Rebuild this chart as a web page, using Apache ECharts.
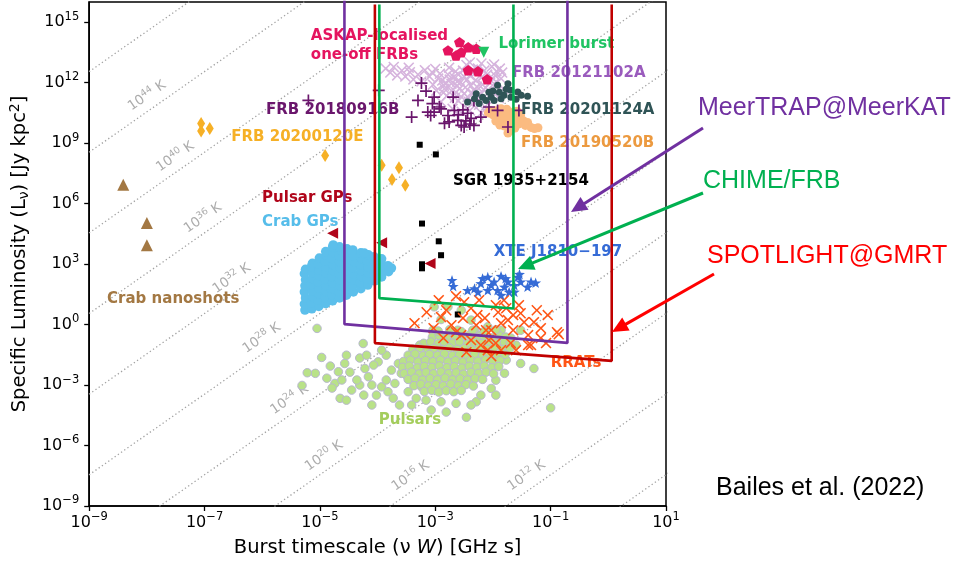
<!DOCTYPE html>
<html>
<head>
<meta charset="utf-8">
<script src="https://cdn.jsdelivr.net/npm/echarts@6/dist/echarts.min.js"></script>
<style>
  html, body { margin: 0; padding: 0; background: #fff; }
  #chart { width: 958px; height: 565px; }
</style>
</head>
<body>
<div id="chart"></div>
<script>
// All source values below are given as [log10(nu W / GHz s), log10(L_nu / Jy kpc^2)].

const crabNanoshots = [[-8.41, 6.94], [-8.00, 5.04], [-8.00, 3.93]];

const frb20200120E = [[-7.06, 9.97], [-7.06, 9.60], [-6.91, 9.72], [-4.91, 8.39],
  [-3.93, 7.90], [-3.63, 7.78], [-3.75, 7.19], [-3.52, 6.91]];

const sgr1935 = [[-3.27, 8.92], [-2.99, 8.44], [-3.23, 5.01], [-2.94, 4.13],
  [-2.90, 3.44], [-3.23, 2.99], [-3.23, 2.79], [-2.61, 0.50]];

const pulsarGPs = [[-4.78, 4.53], [-3.93, 4.06], [-3.09, 3.03]];

const askapFRBs = [[-2.58, 14.01], [-2.78, 13.60], [-2.64, 13.35], [-2.55, 13.51],
  [-2.43, 13.76], [-2.29, 13.68], [-2.43, 12.61], [-2.26, 12.56], [-2.10, 12.17]];

const lorimerBurst = [[-2.16, 13.51]];

const frb20121102A = [
  [-3.86, 12.70], [-3.78, 12.50], [-3.72, 12.78], [-3.66, 12.36], [-3.58, 12.60], [-3.52, 12.30],
  [-3.44, 12.52], [-3.38, 12.16], [-3.30, 12.40], [-3.24, 12.06], [-3.46, 12.74], [-3.18, 12.62],
  [-3.10, 12.30], [-3.04, 11.90], [-2.98, 11.60], [-2.92, 12.44], [-2.88, 12.10], [-2.84, 11.70],
  [-2.80, 11.35], [-2.76, 12.74], [-2.72, 11.95], [-2.68, 12.28], [-2.64, 11.52], [-2.60, 11.10],
  [-2.56, 12.02], [-2.52, 12.60], [-2.48, 11.76], [-2.44, 11.30], [-2.40, 12.36], [-2.36, 10.95],
  [-2.33, 11.62], [-2.30, 12.12], [-2.26, 12.70], [-2.22, 11.40], [-2.18, 11.90], [-2.14, 10.80],
  [-2.10, 12.40], [-2.06, 11.56], [-2.02, 12.80], [-1.98, 11.95], [-1.94, 12.56], [-1.90, 11.24],
  [-1.86, 12.20], [-1.82, 11.70], [-2.90, 11.05], [-2.70, 10.70], [-2.54, 10.55], [-2.40, 10.62],
  [-2.24, 10.90], [-2.50, 11.45], [-2.62, 11.85], [-2.38, 11.85], [-2.12, 11.20], [-2.78, 12.40],
  [-2.46, 12.88], [-2.30, 12.50], [-2.00, 12.20], [-2.86, 11.50], [-2.20, 10.50], [-2.66, 11.25],
  [-3.00, 12.68], [-1.95, 11.50], [-2.95, 12.20], [-2.85, 11.85], [-2.75, 12.15], [-2.65, 12.55],
  [-2.58, 11.70], [-2.45, 12.15], [-2.35, 12.65], [-2.28, 11.80], [-2.15, 12.60], [-2.05, 12.00],
  [-1.96, 12.35], [-1.88, 12.70], [-2.55, 11.30], [-2.42, 11.05], [-2.28, 11.20], [-2.16, 11.65],
  [-2.72, 11.60], [-2.82, 12.00], [-2.60, 12.40], [-2.20, 12.25], [-3.05, 12.50], [-2.50, 12.30],
  [-1.84, 12.50], [-2.35, 11.45], [-2.62, 12.05], [-2.40, 13.00], [-2.20, 12.95], [-1.98, 12.90]];

const frb20180916B = [
  [-5.20, 11.12], [-3.98, 11.62], [-3.24, 11.98], [-3.16, 11.58], [-3.30, 11.12], [-3.02, 11.28],
  [-3.41, 10.29], [-3.13, 10.54], [-2.93, 10.79], [-2.84, 9.98], [-2.69, 11.28], [-2.67, 10.62],
  [-2.55, 9.88], [-2.33, 9.88], [-2.44, 10.48], [-2.21, 10.29], [-2.33, 11.12], [-2.07, 10.79],
  [-1.92, 10.62], [-1.74, 9.80], [-1.55, 10.62], [-3.02, 10.54], [-2.78, 10.37], [-2.61, 10.13],
  [-2.50, 9.80], [-2.38, 10.23], [-3.05, 10.96], [-2.90, 10.70], [-2.60, 10.40], [-2.47, 10.10],
  [-2.40, 9.95], [-3.08, 10.37], [-2.76, 10.05], [-2.52, 10.65]];

const frb20201124A = [
  [-1.74, 11.95], [-1.57, 11.53], [-1.40, 11.32], [-2.00, 11.58], [-2.18, 11.28], [-2.32, 11.20],
  [-1.86, 11.20], [-1.69, 11.28], [-2.12, 11.12], [-1.98, 11.12], [-1.81, 11.37], [-2.44, 11.04],
  [-2.29, 11.45], [-1.92, 11.87], [-1.69, 11.62], [-2.07, 11.52], [-1.89, 11.52], [-2.24, 10.97],
  [-1.60, 11.17], [-1.51, 11.37], [-1.77, 11.67], [-2.03, 11.28]];

const frb20190520B = [
  [-2.05, 10.62], [-2.00, 10.40], [-1.95, 10.60], [-1.90, 10.30], [-1.85, 10.55], [-1.80, 10.20],
  [-1.76, 10.68], [-1.72, 10.40], [-1.68, 10.05], [-1.64, 10.55], [-1.60, 10.25], [-1.56, 9.95],
  [-1.52, 10.40], [-1.48, 10.12], [-1.44, 9.88], [-1.40, 10.02], [-1.34, 9.78], [-1.28, 9.72],
  [-1.22, 9.76], [-1.74, 9.50], [-1.70, 9.62], [-1.62, 9.75], [-1.95, 10.10], [-1.88, 9.90],
  [-2.08, 10.50], [-1.58, 10.58], [-1.86, 10.71], [-1.80, 9.85]];

const xteJ1810 = [
  [-2.71, 2.20], [-2.69, 1.90], [-2.44, 1.70], [-2.32, 1.79], [-2.21, 2.04], [-2.09, 2.36],
  [-1.98, 2.12], [-1.86, 2.40], [-1.74, 2.12], [-1.57, 2.36], [-1.72, 1.62], [-1.40, 1.87],
  [-1.26, 2.07], [-1.92, 1.70], [-2.09, 1.70], [-2.03, 1.95], [-1.80, 1.87], [-1.63, 1.95],
  [-1.52, 2.12], [-1.34, 2.12], [-1.78, 2.29], [-2.18, 2.29], [-2.26, 1.62], [-1.86, 1.46],
  [-1.63, 1.62], [-1.54, 2.50]];

const rrats = [
  [-3.36, 0.07], [-3.15, 0.61], [-2.94, 1.21], [-2.90, 0.37], [-2.64, 1.41], [-2.52, 0.32],
  [-2.38, 0.81], [-2.24, 1.21], [-2.14, 0.32], [-2.03, -0.28], [-1.91, 0.61], [-1.81, 1.21],
  [-1.74, 0.22], [-1.65, -0.28], [-1.52, 0.56], [-1.39, -0.52], [-1.29, 0.12], [-1.17, -0.18],
  [-1.05, 0.47], [-0.89, -0.38], [-1.08, -0.92], [-1.39, -1.02], [-1.69, -0.92], [-1.95, -0.92],
  [-2.21, -1.02], [-2.46, -1.37], [-2.55, -0.52], [-2.38, -0.77], [-2.03, -1.57], [-1.86, -1.27],
  [-1.60, -1.27], [-1.34, -1.02], [-2.12, -0.28], [-2.29, -0.03], [-2.72, -0.03], [-2.81, 0.71],
  [-2.50, 1.11], [-1.86, 0.07], [-1.65, 0.47], [-1.46, 0.12], [-1.24, 0.71], [-1.55, 0.96],
  [-1.77, 0.81], [-1.95, 0.96], [-2.27, 0.47], [-2.64, -0.38], [-3.03, -0.18], [-2.86, -0.67],
  [-2.07, -0.77], [-1.17, -0.67], [-0.86, -0.48], [-2.09, -1.27]];

const crabGPs = [
  [-5.26, 0.72], [-5.27, 1.02], [-5.25, 1.32], [-5.27, 1.62], [-5.26, 1.92], [-5.25, 2.22], [-5.27, 2.52], [-5.25, 2.74],
  [-5.14, 0.78], [-5.15, 1.08], [-5.13, 1.38], [-5.14, 1.68], [-5.15, 1.98], [-5.13, 2.28], [-5.14, 2.58], [-5.15, 2.86], [-5.13, 3.04],
  [-5.02, 0.90], [-5.03, 1.20], [-5.01, 1.50], [-5.02, 1.80], [-5.03, 2.10], [-5.01, 2.40], [-5.02, 2.70], [-5.03, 3.00], [-5.01, 3.30],
  [-4.90, 1.04], [-4.91, 1.34], [-4.89, 1.64], [-4.90, 1.94], [-4.91, 2.24], [-4.89, 2.54], [-4.90, 2.84], [-4.91, 3.14], [-4.89, 3.44], [-4.90, 3.62],
  [-4.78, 1.18], [-4.79, 1.48], [-4.77, 1.78], [-4.78, 2.08], [-4.79, 2.38], [-4.77, 2.68], [-4.78, 2.98], [-4.79, 3.28], [-4.77, 3.58], [-4.78, 3.86],
  [-4.66, 1.32], [-4.67, 1.62], [-4.65, 1.92], [-4.66, 2.22], [-4.67, 2.52], [-4.65, 2.82], [-4.66, 3.12], [-4.67, 3.42], [-4.65, 3.72], [-4.66, 3.86],
  [-4.54, 1.46], [-4.55, 1.76], [-4.53, 2.06], [-4.54, 2.36], [-4.55, 2.66], [-4.53, 2.96], [-4.54, 3.26], [-4.55, 3.56], [-4.53, 3.76],
  [-4.42, 1.62], [-4.43, 1.92], [-4.41, 2.22], [-4.42, 2.52], [-4.43, 2.82], [-4.41, 3.12], [-4.42, 3.42], [-4.43, 3.70],
  [-4.29, 1.78], [-4.30, 2.08], [-4.28, 2.38], [-4.29, 2.68], [-4.30, 2.98], [-4.28, 3.28], [-4.29, 3.56],
  [-4.17, 1.96], [-4.18, 2.26], [-4.16, 2.56], [-4.17, 2.86], [-4.18, 3.16], [-4.16, 3.46],
  [-4.05, 2.16], [-4.06, 2.46], [-4.04, 2.76], [-4.05, 3.06], [-4.06, 3.36],
  [-3.93, 2.36], [-3.94, 2.66], [-3.92, 2.96], [-3.93, 3.26],
  [-3.81, 2.62], [-3.82, 2.92],
  [-4.77, 3.95], [-4.44, 3.65], [-4.23, 3.55], [-3.99, 3.11], [-3.76, 2.80]];

const pulsarsCore = [
  [-3.05, -0.62], [-2.93, -0.55], [-2.80, -0.66], [-2.66, -0.58], [-2.54, -0.64], [-2.41, -0.52], [-2.27, -0.63], [-2.15, -0.57], [-2.01, -0.66], [-1.89, -0.55], [-1.78, -0.62],
  [-3.20, -0.93], [-3.08, -0.86], [-2.95, -0.95], [-2.84, -0.88], [-2.70, -0.92], [-2.58, -0.85], [-2.44, -0.96], [-2.31, -0.89], [-2.19, -0.94], [-2.05, -0.86], [-1.93, -0.93], [-1.80, -0.88], [-1.70, -0.95],
  [-3.39, -1.22], [-3.27, -1.16], [-3.13, -1.25], [-3.02, -1.18], [-2.88, -1.24], [-2.76, -1.15], [-2.62, -1.23], [-2.50, -1.19], [-2.36, -1.26], [-2.24, -1.17], [-2.10, -1.22], [-1.98, -1.14], [-1.84, -1.24], [-1.71, -1.18],
  [-3.47, -1.52], [-3.35, -1.46], [-3.21, -1.55], [-3.10, -1.48], [-2.96, -1.53], [-2.84, -1.45], [-2.70, -1.54], [-2.58, -1.49], [-2.44, -1.56], [-2.32, -1.47], [-2.18, -1.52], [-2.06, -1.45], [-1.92, -1.55], [-1.79, -1.48],
  [-3.55, -1.83], [-3.43, -1.76], [-3.30, -1.85], [-3.17, -1.78], [-3.04, -1.84], [-2.91, -1.76], [-2.78, -1.85], [-2.65, -1.79], [-2.52, -1.86], [-2.39, -1.77], [-2.26, -1.82], [-2.13, -1.75], [-2.00, -1.84], [-1.88, -1.78],
  [-3.57, -2.12], [-3.45, -2.06], [-3.31, -2.15], [-3.19, -2.08], [-3.06, -2.13], [-2.93, -2.05], [-2.80, -2.14], [-2.67, -2.09], [-2.54, -2.16], [-2.41, -2.07], [-2.28, -2.12], [-2.15, -2.06], [-2.02, -2.14], [-1.90, -2.08],
  [-3.54, -2.43], [-3.41, -2.36], [-3.28, -2.45], [-3.16, -2.38], [-3.03, -2.44], [-2.90, -2.35], [-2.77, -2.44], [-2.64, -2.39], [-2.51, -2.46], [-2.38, -2.37], [-2.25, -2.42], [-2.12, -2.36], [-1.99, -2.44],
  [-3.47, -2.72], [-3.35, -2.66], [-3.22, -2.75], [-3.09, -2.68], [-2.96, -2.74], [-2.83, -2.65], [-2.70, -2.74], [-2.57, -2.69], [-2.44, -2.75], [-2.31, -2.67], [-2.18, -2.72],
  [-3.37, -3.03], [-3.25, -2.96], [-3.12, -3.05], [-2.99, -2.98], [-2.86, -3.04], [-2.73, -2.95], [-2.60, -3.04], [-2.47, -2.98], [-2.34, -3.05],
  [-3.19, -3.32], [-3.06, -3.26], [-2.94, -3.35], [-2.81, -3.28], [-2.68, -3.33], [-2.55, -3.27],
  [-2.95, -0.32], [-2.75, -0.25], [-2.55, -0.35], [-2.35, -0.28], [-2.15, -0.33], [-1.95, -0.26]];

const pulsarsSparse = [
  [-4.25, -0.94], [-4.97, -1.63], [-4.82, -2.06], [-4.68, -2.34], [-4.57, -1.93], [-4.74, -2.92],
  [-4.65, -3.66], [-4.54, -3.75], [-4.45, -3.25], [-4.31, -3.00], [-4.22, -2.18], [-4.16, -2.59],
  [-4.10, -3.99], [-4.02, -3.50], [-3.93, -3.09], [-3.82, -3.33], [-3.70, -2.92], [-3.59, -2.42],
  [-3.64, -1.93], [-3.85, -1.52], [-3.93, -1.27], [-3.99, -1.85], [-3.76, -2.26], [-3.47, -3.33],
  [-3.33, -3.66], [-3.24, -3.09], [-3.16, -3.75], [-2.90, -3.83], [-2.64, -3.91], [-2.46, -4.60],
  [-2.29, -3.83], [-2.03, -3.17], [-1.80, -2.42], [-1.52, -1.93], [-1.29, -2.18], [-1.00, -4.13],
  [-5.08, -2.42], [-3.38, -2.76], [-3.27, -1.02], [-5.05, -0.19], [-5.22, -2.39], [-5.31, -3.02],
  [-3.02, 0.88], [-2.90, 0.25], [-2.78, 0.88], [-2.55, 0.71], [-3.04, -0.28], [-2.84, -0.61],
  [-2.61, -0.28], [-2.32, -0.28], [-2.09, -0.11], [-4.88, -2.66], [-4.79, -3.15], [-4.62, -2.75],
  [-4.48, -2.36], [-4.36, -2.75], [-4.24, -3.50], [-4.10, -3.00], [-4.07, -2.01], [-3.85, -2.75],
  [-3.73, -3.65], [-3.62, -3.99], [-3.50, -2.51], [-3.41, -3.99], [-4.31, -1.66], [-4.54, -1.52],
  [-4.19, -1.52], [-2.21, -3.50], [-1.95, -2.76], [-1.77, -1.76], [-1.60, -1.02], [-2.38, -3.99],
  [-3.07, -4.24], [-2.81, -4.34], [-2.38, 0.22], [-2.21, -0.52], [-1.86, -0.28], [-1.69, -0.67],
  [-1.52, -0.28], [-1.95, -3.50]];

// Survey sensitivity regions (open-topped outlines)
const meerTrapRegion = [[-4.575, 17], [-4.575, 0.02], [-0.709, -0.91], [-0.709, 17]];
const spotlightRegion = [[-4.047, 15.88], [-4.047, -0.92], [0.059, -1.80], [0.059, 15.88]];
const chimeRegion = [[-3.97, 15.88], [-3.97, 1.31], [-1.645, 0.80], [-1.645, 15.88]];

// Lines of constant brightness temperature: log10 L = log10 T + 2 log10(nu W) + TB_OFFSET
const isoTemperatureExps = [8, 12, 16, 20, 24, 28, 32, 36, 40, 44, 48];
const TB_OFFSET = -17.45;
const isoLabelAt = { 12: -1.29, 16: -3.30, 20: -4.80, 24: -5.40, 28: -5.88, 32: -6.40, 36: -6.90, 40: -7.38, 44: -7.87 };

const toLinear = pts => pts.map(p => [Math.pow(10, p[0]), Math.pow(10, p[1])]);
const isoL = (tExp, xExp) => Math.pow(10, tExp + TB_OFFSET + 2 * xExp);

const FONT = 'DejaVu Sans';
const minus = n => (n < 0 ? '\u2212' + (-n) : String(n));
const supLabel = e => '10{sup|' + minus(e) + '}';

const groupLabels = [
  { text: 'ASKAP-localised\none-off FRBs', at: [-5.157, 13.82], color: '#e5145f' },
  { text: 'Lorimer burst', at: [-1.904, 13.895], color: '#1fc463' },
  { text: 'FRB 20121102A', at: [-1.671, 12.46], color: '#9a5bbd' },
  { text: 'FRB 20180916B', at: [-5.934, 10.625], color: '#6a166c' },
  { text: 'FRB 20201124A', at: [-1.516, 10.625], color: '#2f5456' },
  { text: 'FRB 20200120E', at: [-6.537, 9.29], color: '#f6b026' },
  { text: 'FRB 20190520B', at: [-1.516, 8.976], color: '#ec9a40' },
  { text: 'SGR 1935+2154', at: [-2.694, 7.106], color: '#000000' },
  { text: 'Pulsar GPs', at: [-6.003, 6.264], color: '#b0051a' },
  { text: 'Crab GPs', at: [-6.003, 5.07], color: '#56bdea' },
  { text: 'XTE J1810\u2212197', at: [-1.987, 3.57], color: '#356bd6' },
  { text: 'Crab nanoshots', at: [-8.69, 1.24], color: '#a37843' },
  { text: 'RRATs', at: [-0.998, -1.93], color: '#ff5515' },
  { text: 'Pulsars', at: [-3.978, -4.74], color: '#a4cd5c' }
];

const SYM_PENTAGON = 'path://M0,-10L9.51,-3.09L5.88,8.09L-5.88,8.09L-9.51,-3.09Z';
const SYM_STAR = 'path://M0,-10L2.35,-3.24L9.51,-3.09L3.8,1.24L5.88,8.09L0,4L-5.88,8.09L-3.8,1.24L-9.51,-3.09L-2.35,-3.24Z';
const SYM_X = 'path://M1,0L5,4L9,0L10,1L6,5L10,9L9,10L5,6L1,10L0,9L4,5L0,1Z';
const SYM_PLUS = 'path://M4.3,0H5.7V4.3H10V5.7H5.7V10H4.3V5.7H0V4.3H4.3Z';

function scatter(name, pts, opts) {
  const s = Object.assign({
    name, type: 'scatter', data: toLinear(pts), z: 2, silent: true,
    symbolKeepAspect: true
  }, opts);
  s.itemStyle = Object.assign({ opacity: 1 }, s.itemStyle);
  return s;
}

function region(name, pts, color) {
  return {
    name, type: 'line', data: toLinear(pts), z: 4, silent: true, showSymbol: false,
    symbol: 'none', clip: true, lineStyle: { color, width: 2.6, opacity: 1 }
  };
}

const isoSeries = isoTemperatureExps.map(t => ({
  type: 'line', z: 1, silent: true, symbol: 'none', clip: true,
  data: [[1e-10, isoL(t, -10)], [1e2, isoL(t, 2)]],
  lineStyle: { color: '#a2a2a2', width: 1.3, type: [1.3, 2.6] }
}));

const isoLabelSeries = {
  type: 'scatter', z: 1, silent: true, symbolSize: 0, itemStyle: { opacity: 1 },
  data: Object.keys(isoLabelAt).map(t => ({
    value: [Math.pow(10, isoLabelAt[t]), isoL(+t, isoLabelAt[t])],
    label: { formatter: '10{sup|' + t + '} K' }
  })),
  label: {
    show: true, position: 'inside', offset: [0, -13], rotate: 34.6, opacity: 1,
    align: 'center', verticalAlign: 'middle',
    fontFamily: FONT, fontSize: 13.5, color: '#acacac',
    rich: { sup: { fontFamily: FONT, fontSize: 9.5, color: '#acacac', padding: [0, 0, 8, 0] } }
  }
};

const textSeries = {
  type: 'scatter', z: 3, silent: true, symbolSize: 0, itemStyle: { opacity: 1 },
  data: groupLabels.map(g => ({
    value: [Math.pow(10, g.at[0]), Math.pow(10, g.at[1])],
    label: { formatter: g.text, color: g.color }
  })),
  label: {
    show: true, position: 'right', distance: 0, align: 'left', verticalAlign: 'middle', opacity: 1,
    fontFamily: FONT, fontWeight: 'bold', fontSize: 15, lineHeight: 19
  }
};

function arrow(x1, y1, x2, y2, color) {
  const dx = x2 - x1, dy = y2 - y1, len = Math.hypot(dx, dy);
  const ux = dx / len, uy = dy / len, hl = 16, hw = 7.5;
  const bx = x2 - ux * hl, by = y2 - uy * hl;
  return [
    { type: 'line', z: 100, silent: true, shape: { x1, y1, x2: bx + ux * 2, y2: by + uy * 2 }, style: { stroke: color, lineWidth: 3 } },
    { type: 'polygon', z: 100, silent: true, shape: { points: [[x2, y2], [bx - uy * hw, by + ux * hw], [bx + uy * hw, by - ux * hw]] }, style: { fill: color } }
  ];
}

function note(text, x, y, color) {
  return { type: 'text', z: 100, silent: true, x, y,
    style: { text, fill: color, fontFamily: 'Liberation Sans', fontSize: 25, verticalAlign: 'middle', align: 'left' } };
}

const axisCommon = {
  type: 'log', logBase: 10,
  axisLine: { show: true, lineStyle: { color: '#000', width: 1.5 } },
  axisTick: { show: true, inside: false, length: 5, lineStyle: { color: '#000', width: 1.3 } },
  splitLine: { show: false },
  minorTick: { show: false },
  nameLocation: 'middle',
  nameTextStyle: {
    fontFamily: FONT, fontSize: 19.5, color: '#000',
    rich: {
      sub: { fontFamily: FONT, fontSize: 14, color: '#000', padding: [9, 0, 0, 0] },
      sup: { fontFamily: FONT, fontSize: 14, color: '#000', padding: [0, 0, 9, 0] },
      it: { fontFamily: FONT, fontSize: 19.5, color: '#000', fontStyle: 'italic' }
    }
  }
};

const tickLabelStyle = {
  fontFamily: FONT, fontSize: 16, color: '#000',
  rich: { sup: { fontFamily: FONT, fontSize: 11.5, color: '#000', padding: [0, 0, 11, 0] } }
};

const chart = echarts.init(document.getElementById('chart'), null, { renderer: 'canvas' });

const option = {
  animation: false,
  backgroundColor: '#ffffff',
  grid: { left: 86, right: 292, top: 2, bottom: 59, show: true, borderColor: '#000', borderWidth: 1.5, backgroundColor: 'transparent' },
  xAxis: Object.assign({}, axisCommon, {
    min: 1e-9, max: 1e1, interval: 2,
    name: 'Burst timescale (\u03bd {it|W}) [GHz s]', nameGap: 32,
    axisLabel: Object.assign({}, tickLabelStyle, {
      margin: 5,
      formatter: v => supLabel(Math.round(Math.log10(v)))
    })
  }),
  yAxis: Object.assign({}, axisCommon, {
    min: 1e-9, max: 1e16, interval: 3,
    name: 'Specific Luminosity (L{sub|\u03bd}) [Jy kpc{sup|2}]', nameGap: 50,
    axisLabel: Object.assign({}, tickLabelStyle, {
      margin: 10, showMaxLabel: false,
      formatter: v => { const e = Math.round(Math.log10(v)); return (e % 3 === 0 && e < 16) ? supLabel(e) : ''; }
    })
  }),
  series: [
    ...isoSeries,
    isoLabelSeries,
    scatter('Pulsars', pulsarsSparse.concat(pulsarsCore), { symbol: 'circle', symbolSize: 8.5, itemStyle: { color: '#b9e288', borderColor: '#b8b8cf', borderWidth: 1 } }),
    scatter('Crab GPs', crabGPs, { symbol: 'circle', symbolSize: 9.5, itemStyle: { color: '#5cbfeb' } }),
    scatter('Crab nanoshots', crabNanoshots, { symbol: 'triangle', symbolSize: 12, itemStyle: { color: '#a37843' } }),
    scatter('FRB 20121102A', frb20121102A, { symbol: SYM_X, symbolSize: 11, itemStyle: { color: '#d6b4dd' } }),
    scatter('FRB 20190520B', frb20190520B, { symbol: 'circle', symbolSize: 9, itemStyle: { color: '#fbbb80' } }),
    scatter('FRB 20180916B', frb20180916B, { symbol: SYM_PLUS, symbolSize: 12, itemStyle: { color: '#6a166c' } }),
    scatter('FRB 20201124A', frb20201124A, { symbol: 'circle', symbolSize: 7, itemStyle: { color: '#2f5456' } }),
    scatter('ASKAP FRBs', askapFRBs, { symbol: SYM_PENTAGON, symbolSize: 11, itemStyle: { color: '#e5145f' } }),
    scatter('Lorimer burst', lorimerBurst, { symbol: 'triangle', symbolRotate: 180, symbolSize: 11, itemStyle: { color: '#1fc463' } }),
    scatter('FRB 20200120E', frb20200120E, { symbol: 'diamond', symbolKeepAspect: false, symbolSize: [8, 13], itemStyle: { color: '#f6b026' } }),
    scatter('SGR 1935+2154', sgr1935, { symbol: 'rect', symbolSize: 6, itemStyle: { color: '#000' } }),
    scatter('Pulsar GPs', pulsarGPs, { symbol: 'triangle', symbolRotate: 90, symbolSize: 11, itemStyle: { color: '#b0051a' } }),
    scatter('RRATs', rrats, { symbol: SYM_X, symbolSize: 11, itemStyle: { color: '#ff5515' } }),
    scatter('XTE J1810-197', xteJ1810, { symbol: SYM_STAR, symbolSize: 11, itemStyle: { color: '#356bd6' } }),
    textSeries,
    region('MeerTRAP', meerTrapRegion, '#7030a0'),
    region('SPOTLIGHT', spotlightRegion, '#c00000'),
    region('CHIME', chimeRegion, '#00b050')
  ],
  graphic: [
    note('MeerTRAP@MeerKAT', 698, 108, '#7030a0'),
    note('CHIME/FRB', 703, 181, '#00b050'),
    note('SPOTLIGHT@GMRT', 707, 256, '#ff0000'),
    note('Bailes et al. (2022)', 716, 488, '#000000'),
    ...arrow(703, 128, 571, 212, '#7030a0'),
    ...arrow(703, 193, 518, 269, '#00b050'),
    ...arrow(714, 274, 612, 332, '#ff0000')
  ]
};

chart.setOption(option);
</script>
</body>
</html>
